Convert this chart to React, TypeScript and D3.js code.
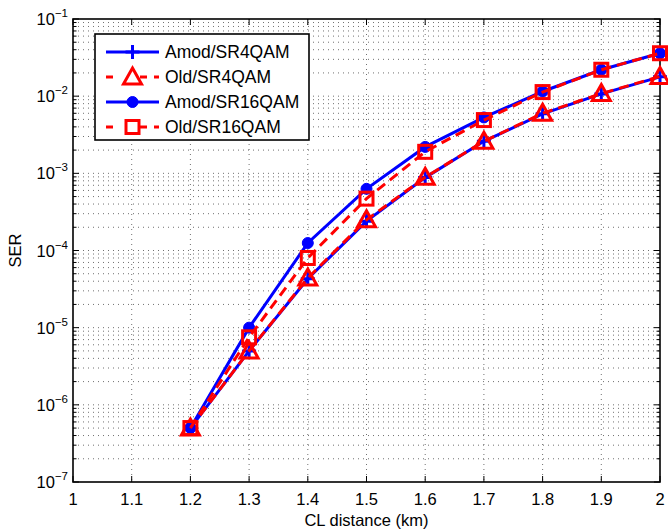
import { useEffect, useRef } from 'react'
import * as d3 from 'd3'

const distances = [1.2, 1.3, 1.4, 1.5, 1.6, 1.7, 1.8, 1.9, 2.0]
const amodSR4 = [5e-7, 5e-6, 4.3e-5, 2.4e-4, 8.8e-4, 2.6e-3, 5.9e-3, 1.07e-2, 1.78e-2]
const oldSR4 = [5e-7, 5e-6, 4.4e-5, 2.5e-4, 8.9e-4, 2.6e-3, 6.0e-3, 1.08e-2, 1.8e-2]
const amodSR16 = [5e-7, 1.0e-5, 1.25e-4, 6.3e-4, 2.2e-3, 5.3e-3, 1.15e-2, 2.2e-2, 3.6e-2]
const oldSR16 = [5e-7, 7.5e-6, 8e-5, 4.7e-4, 1.9e-3, 4.9e-3, 1.13e-2, 2.2e-2, 3.6e-2]

const xTicks = [1, 1.1, 1.2, 1.3, 1.4, 1.5, 1.6, 1.7, 1.8, 1.9, 2]
const yExponents = [-7, -6, -5, -4, -3, -2, -1]

const series = [
  { name: 'Amod/SR4QAM', values: amodSR4, color: '#0000ff', dashed: false, marker: 'plus' },
  { name: 'Old/SR4QAM', values: oldSR4, color: '#ff0000', dashed: true, marker: 'triangle' },
  { name: 'Amod/SR16QAM', values: amodSR16, color: '#0000ff', dashed: false, marker: 'circle' },
  { name: 'Old/SR16QAM', values: oldSR16, color: '#ff0000', dashed: true, marker: 'square' },
]

const FONT = '"Liberation Sans", Arial, Helvetica, sans-serif'

export default function App() {
  const svgRef = useRef<SVGSVGElement>(null)

  useEffect(() => {
    const root = d3.select(svgRef.current)
    root.selectAll('*').remove()

    const width = 668
    const height = 531
    const margin = { top: 19, right: 8, bottom: 49, left: 73 }
    const innerW = width - margin.left - margin.right
    const innerH = height - margin.top - margin.bottom

    root.append('rect').attr('width', width).attr('height', height).attr('fill', '#fff')

    const x = d3.scaleLinear().domain([1, 2]).range([0, innerW])
    const y = d3.scaleLog().domain([1e-7, 1e-1]).range([innerH, 0])

    const svg = root.append('g').attr('transform', `translate(${margin.left},${margin.top})`)

    // minor + major log values
    const yAll: number[] = []
    for (let e = -7; e < -1; e++) {
      for (let m = 1; m < 10; m++) yAll.push(m * Math.pow(10, e))
    }
    yAll.push(1e-1)

    // grid
    const grid = svg.append('g')
      .attr('stroke', '#000')
      .attr('stroke-width', 0.8)
      .attr('stroke-dasharray', '1 4')
      .attr('opacity', 0.7)
    grid.selectAll('.hg').data(yAll.filter(v => v > 1e-7 && v < 1e-1)).enter().append('line')
      .attr('x1', 0).attr('x2', innerW)
      .attr('y1', d => y(d)).attr('y2', d => y(d))
    grid.selectAll('.vg').data(xTicks.slice(1, -1)).enter().append('line')
      .attr('y1', 0).attr('y2', innerH)
      .attr('x1', d => x(d)).attr('x2', d => x(d))

    // ticks (inward, all sides)
    const ticks = svg.append('g').attr('stroke', '#000').attr('stroke-width', 1)
    xTicks.forEach(t => {
      ticks.append('line').attr('x1', x(t)).attr('x2', x(t)).attr('y1', innerH).attr('y2', innerH - 6)
      ticks.append('line').attr('x1', x(t)).attr('x2', x(t)).attr('y1', 0).attr('y2', 6)
    })
    yAll.forEach(v => {
      const major = Math.abs(Math.log10(v) - Math.round(Math.log10(v))) < 1e-9
      const len = major ? 6 : 3.5
      ticks.append('line').attr('x1', 0).attr('x2', len).attr('y1', y(v)).attr('y2', y(v))
      ticks.append('line').attr('x1', innerW).attr('x2', innerW - len).attr('y1', y(v)).attr('y2', y(v))
    })

    // box
    svg.append('rect')
      .attr('width', innerW).attr('height', innerH)
      .attr('fill', 'none').attr('stroke', '#000').attr('stroke-width', 1.6)

    // tick labels
    svg.selectAll('.xl').data(xTicks).enter().append('text')
      .attr('x', d => x(d)).attr('y', innerH + 23)
      .attr('text-anchor', 'middle')
      .attr('font-family', FONT).attr('font-size', 16.5)
      .text(d => d3.format('')(d))

    yExponents.forEach(e => {
      const t = svg.append('text')
        .attr('x', -5).attr('y', y(Math.pow(10, e)) + 6)
        .attr('text-anchor', 'end')
        .attr('font-family', FONT).attr('font-size', 16.5)
      t.append('tspan').text('10')
      t.append('tspan').attr('dy', -8).attr('font-size', 11.5).text(`−${-e}`)
    })

    // axis labels
    svg.append('text')
      .attr('x', innerW / 2).attr('y', innerH + 44)
      .attr('text-anchor', 'middle')
      .attr('font-family', FONT).attr('font-size', 16.5)
      .text('CL distance (km)')
    svg.append('text')
      .attr('transform', `translate(${-52},${innerH / 2}) rotate(-90)`)
      .attr('text-anchor', 'middle')
      .attr('font-family', FONT).attr('font-size', 16.5)
      .text('SER')

    const drawMarker = (g: any, kind: string, cx: number, cy: number, color: string) => {
      if (kind === 'plus') {
        g.append('path')
          .attr('d', `M${cx - 7},${cy}H${cx + 7}M${cx},${cy - 7}V${cy + 7}`)
          .attr('stroke', color).attr('stroke-width', 3).attr('fill', 'none')
      } else if (kind === 'triangle') {
        g.append('path')
          .attr('d', `M${cx},${cy - 9}L${cx + 9},${cy + 7}L${cx - 9},${cy + 7}Z`)
          .attr('stroke', color).attr('stroke-width', 3).attr('fill', 'none')
          .attr('stroke-linejoin', 'miter')
      } else if (kind === 'circle') {
        g.append('circle').attr('cx', cx).attr('cy', cy).attr('r', 5.5)
          .attr('fill', color).attr('stroke', color).attr('stroke-width', 1)
      } else if (kind === 'square') {
        g.append('rect').attr('x', cx - 6.5).attr('y', cy - 6.5).attr('width', 13).attr('height', 13)
          .attr('stroke', color).attr('stroke-width', 3).attr('fill', 'none')
      }
    }

    const line = d3.line<number>()
      .x((_, i) => x(distances[i]))
      .y(d => y(d))

    const plot = svg.append('g')
    series.forEach(s => {
      plot.append('path')
        .attr('d', line(s.values))
        .attr('fill', 'none')
        .attr('stroke', s.color)
        .attr('stroke-width', 3)
        .attr('stroke-dasharray', s.dashed ? '10 6' : null)
      s.values.forEach((v, i) => drawMarker(plot, s.marker, x(distances[i]), y(v), s.color))
    })

    // legend
    const lg = svg.append('g').attr('transform', `translate(${95 - margin.left},${34 - margin.top})`)
    lg.append('rect').attr('width', 214).attr('height', 106)
      .attr('fill', '#fff').attr('stroke', '#000').attr('stroke-width', 1.6)
    series.forEach((s, i) => {
      const ly = 18 + i * 25
      const row = lg.append('g')
      row.append('line')
        .attr('x1', 11).attr('x2', 64).attr('y1', ly).attr('y2', ly)
        .attr('stroke', s.color).attr('stroke-width', 3)
        .attr('stroke-dasharray', s.dashed ? '7 13.5 0 13.5 7' : null)
      drawMarker(row, s.marker, 37.5, ly, s.color)
      row.append('text')
        .attr('x', 70).attr('y', ly + 6)
        .attr('font-family', FONT).attr('font-size', 17.5)
        .text(s.name)
    })
  }, [])

  return (
    <svg
      ref={svgRef}
      width={668}
      height={531}
      style={{ position: 'absolute', left: 0, top: 0, display: 'block' }}
    />
  )
}
